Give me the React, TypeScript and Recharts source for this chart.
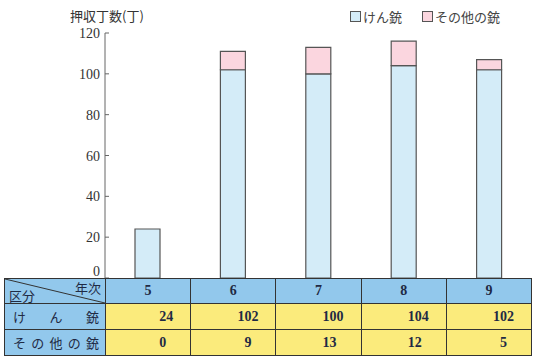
import React from "react";
import { BarChart, Bar, XAxis, YAxis } from "recharts";

const years = ["5", "6", "7", "8", "9"];
const handguns = [24, 102, 100, 104, 102];
const otherGuns = [0, 9, 13, 12, 5];
const yTicks = [0, 20, 40, 60, 80, 100, 120];

const rowLabels = ["けん銃", "その他の銃"];
const seriesNames = ["けん銃", "その他の銃"];

const BLUE = "#d4ecf8";
const PINK = "#fbd6df";
const HEAD_BLUE = "#92c8ec";
const YELLOW = "#fbeb7c";
const INK = "#1f2a44";
const SERIF = "'Liberation Serif', 'DejaVu Serif', serif";
const JP = "'Noto Sans CJK JP', sans-serif";

const data = years.map((y, i) => ({ year: y, gun: handguns[i], other: otherGuns[i] }));

function YTick(props: any) {
  const { x, y, payload } = props;
  // the zero label sits a little above the table edge
  const dy = payload.value === 0 ? -7 : 0;
  return (
    <g>
      <line x1={x + 5} y1={y} x2={x + 9} y2={y} stroke="#666" />
      <text x={x} y={y + dy} dy={5} textAnchor="end" fontFamily={SERIF} fontSize={14} fill="#333">
        {payload.value}
      </text>
    </g>
  );
}

function Spaced({ text }: { text: string }) {
  return (
    <div style={{ display: "flex", justifyContent: "space-between", padding: "0 6px 0 8px" }}>
      {Array.from(text).map((c, i) => (
        <span key={i}>{c}</span>
      ))}
    </div>
  );
}

export default function App() {
  const cell: React.CSSProperties = {
    border: "1px solid #333",
    padding: 0,
    fontFamily: SERIF,
    fontSize: 14,
    fontWeight: "bold",
    color: INK,
  };
  const rows = [handguns, otherGuns];
  return (
    <div style={{ position: "absolute", left: 0, top: 0, width: 534, height: 361, background: "#fff" }}>
      <BarChart width={534} height={361} data={data} margin={{ top: 33, right: 2, bottom: 83, left: 0 }} barSize={25}>
        <XAxis dataKey="year" hide />
        <YAxis
          domain={[0, 120]}
          ticks={yTicks}
          width={105}
          tickSize={0}
          tickMargin={5}
          tickLine={false}
          axisLine={{ stroke: "#666" }}
          tick={<YTick />}
        />
        <Bar dataKey="gun" stackId="a" fill={BLUE} stroke="#555" strokeWidth={1.2} isAnimationActive={false} />
        <Bar dataKey="other" stackId="a" fill={PINK} stroke="#555" strokeWidth={1.2} isAnimationActive={false} />
      </BarChart>

      <div style={{ position: "absolute", left: 70, top: 6, fontFamily: JP, fontSize: 13, color: "#333" }}>
        押収丁数(丁)
      </div>

      <div style={{ position: "absolute", left: 350, top: 7, display: "flex", alignItems: "center", fontFamily: JP, fontSize: 13, color: "#444" }}>
        {seriesNames.map((n, i) => (
          <div key={n} style={{ display: "flex", alignItems: "center", marginRight: i === 0 ? 20 : 0 }}>
            <span
              style={{
                width: 9,
                height: 9,
                background: i === 0 ? BLUE : PINK,
                border: "1px solid #555",
                marginRight: 2,
              }}
            />
            {n}
          </div>
        ))}
      </div>

      <table
        style={{
          position: "absolute",
          left: 4,
          top: 278,
          width: 528,
          borderCollapse: "collapse",
          tableLayout: "fixed",
        }}
      >
        <colgroup>
          <col style={{ width: 101 }} />
          {years.map((y) => (
            <col key={y} />
          ))}
        </colgroup>
        <tbody>
          <tr style={{ height: 25 }}>
            <td
              style={{
                ...cell,
                background: HEAD_BLUE,
                position: "relative",
                fontFamily: JP,
                fontWeight: "normal",
                fontSize: 13,
                lineHeight: 1,
              }}
            >
              <svg width="100%" height="100%" style={{ position: "absolute", left: 0, top: 0 }} viewBox="0 0 100 24" preserveAspectRatio="none">
                <line x1={0} y1={0} x2={100} y2={24} stroke="#333" strokeWidth={1} vectorEffect="non-scaling-stroke" />
              </svg>
              <span style={{ position: "absolute", right: 4, top: 2 }}>年次</span>
              <span style={{ position: "absolute", left: 4, bottom: 1 }}>区分</span>
            </td>
            {years.map((y) => (
              <td key={y} style={{ ...cell, background: HEAD_BLUE, textAlign: "center" }}>
                {y}
              </td>
            ))}
          </tr>
          {rows.map((vals, r) => (
            <tr key={r} style={{ height: 26 }}>
              <td style={{ ...cell, background: HEAD_BLUE, fontFamily: JP, fontWeight: "normal", fontSize: 13 }}>
                <Spaced text={rowLabels[r]} />
              </td>
              {vals.map((v, i) => (
                <td key={i} style={{ ...cell, background: YELLOW, textAlign: "right", paddingRight: r === 0 ? 17 : 24 }}>
                  {v}
                </td>
              ))}
            </tr>
          ))}
        </tbody>
      </table>
    </div>
  );
}
